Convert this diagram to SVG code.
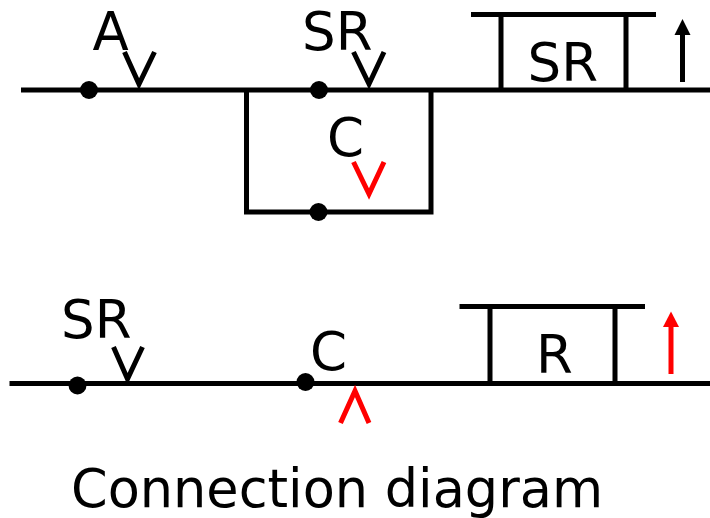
<svg xmlns="http://www.w3.org/2000/svg" width="710" height="518" viewBox="0 0 710 518">
<style>
.l{fill:none;stroke:#000;stroke-width:5}
.r{fill:none;stroke:#f00;stroke-width:5}
.d{fill:#000}
text{font-family:"DejaVu Sans",Verdana,sans-serif;fill:#000}
.t{font-size:53px}
</style>
<rect width="710" height="518" fill="#fff"/>
<g id="connectors">
<path class="l" d="M21 90H710"/>
<path class="l" d="M246.500 90V212H431V90"/>
<path class="l" d="M471 14.500H656M501 14.500V90M626 14.500V90"/>
<path class="l" d="M124.500 52L139 84L154.500 52"/>
<path class="l" d="M353.500 52L369 84L384 52"/>
<path class="r" d="M353.500 162L369 194L384 162"/>
<path class="l" d="M9.500 383.500H710"/>
<path class="l" d="M459.500 306.500H645M490 306.500V383.500M615 306.500V383.500"/>
<path class="l" d="M113.500 347L127.500 379L142.500 347"/>
<path class="r" d="M340.500 423L355 391L369 423"/>
<path class="l" d="M682.500 82V33"/>
<polygon class="d" points="682.500,19 674.500,35 690.500,35"/>
<path class="r" d="M671 374V325"/>
<polygon points="671,311.500 663,327 679,327" fill="#f00"/>
</g>
<g id="node-a"><circle class="d" cx="89" cy="90" r="9"/><text class="t" x="92.500" y="50">A</text></g>
<g id="node-sr1"><circle class="d" cx="319" cy="90" r="9"/><text class="t" x="302" y="50">SR</text></g>
<g id="node-c1"><circle class="d" cx="318.500" cy="212" r="9"/><text class="t" x="327" y="156">C</text></g>
<g id="box-sr"><text class="t" x="527.500" y="81">SR</text></g>
<g id="node-sr2"><circle class="d" cx="77.500" cy="385.500" r="9"/><text class="t" x="61" y="337.500">SR</text></g>
<g id="node-c2"><circle class="d" cx="305.500" cy="382" r="9"/><text class="t" x="310" y="369.500">C</text></g>
<g id="box-r"><text class="t" x="536" y="372.500">R</text></g>
<text x="71" y="507" font-size="52.500">Connection diagram</text>
</svg>
